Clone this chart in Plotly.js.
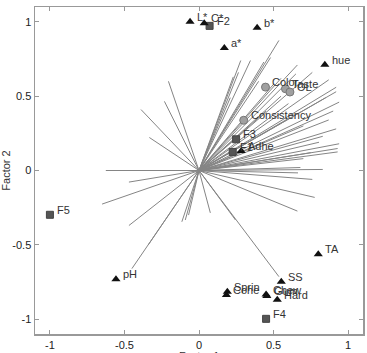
<!DOCTYPE html>
<html><head><meta charset="utf-8">
<script src="https://cdn.plot.ly/plotly-3.0.1.min.js"></script>
<style>html,body{margin:0;padding:0;background:#fff}#chart{width:367px;height:353px}</style>
</head><body><div id="chart"></div>
<script>
// consumer loading vectors (endpoints, from origin)
const loadX = [-0.205,-0.232,-0.389,-0.333,-0.625,-0.47,-0.65,-0.47,-0.45,-0.34,-0.115,-0.092,-0.07,
  0.076,0.245,0.536,0.66,0.776,0.76,0.68,0.664,0.83,0.93,0.93,0.805,
  0.536,0.48,0.435,0.66,0.76,0.65,0.87,0.92,0.92,0.85,0.94,0.90,0.87,0.92,0.83,0.94,
  0.28,0.345,0.23,0.265,0.21,0.55,0.6,0.5,0.7,0.6,0.45,0.75,0.7,0.4,0.55];
const loadY = [0.60,0.465,0.41,0.222,0.0,-0.078,-0.226,-0.37,-0.66,-0.50,-0.345,-0.333,-0.30,
  -0.285,-0.333,-0.714,-0.273,-0.181,-0.06,0.02,-0.016,0.007,0.125,0.148,0.19,
  0.875,0.76,0.73,0.71,0.66,0.65,0.61,0.56,0.53,0.49,0.46,0.40,0.34,0.28,0.23,0.18,
  0.74,0.74,0.63,0.66,0.49,0.5,0.45,0.58,0.3,0.35,0.4,0.12,0.08,0.6,0.62];

// instrumental variables (triangles)
const instNames = ["L*","C*","b*","a*","hue","Adhe","pH","TA","SS","Sprin","Cohe","Chew","Gum","Hard"];
const instX = [-0.06,0.035,0.39,0.17,0.844,0.283,-0.557,0.80,0.552,0.19,0.184,0.45,0.455,0.525];
const instY = [1.0,0.99,0.96,0.825,0.711,0.131,-0.732,-0.564,-0.748,-0.815,-0.837,-0.835,-0.845,-0.87];

// samples (squares)
const sampNames = ["F2","F3","F1","F5","F4"];
const sampX = [0.071,0.249,0.226,-1.0,0.45];
const sampY = [0.973,0.21,0.125,-0.298,-0.998];

// sensory attributes (circles)
const attrNames = ["Color","Taste","OL","Consistency"];
const attrX = [0.446,0.58,0.61,0.30];
const attrY = [0.561,0.55,0.528,0.338];

const tickVals = [-1,-0.5,0,0.5,1];
const tickText = ["-1","-0.5","0","0.5","1"];

const FONT = "Liberation Sans, Arial, sans-serif";
const lx = [], ly = [];
for (let i = 0; i < loadX.length; i++) { lx.push(0, loadX[i], null); ly.push(0, loadY[i], null); }

const traces = [
  {x:lx, y:ly, mode:"lines", line:{color:"#858585", width:1}, hoverinfo:"skip"},
  {x:attrX, y:attrY, mode:"markers",
   marker:{symbol:"circle", size:8, color:"#a0a0a0", line:{color:"#777", width:1}}},
  {x:sampX, y:sampY, mode:"markers",
   marker:{symbol:"square", size:7, color:"#555", line:{color:"#444", width:1}}},
  {x:instX, y:instY, mode:"markers",
   marker:{symbol:"triangle-up", size:8, color:"#111"}}
];

const annotations = [];
function addLabels(names, xs, ys) {
  for (let i = 0; i < names.length; i++) {
    annotations.push({x:xs[i], y:ys[i], xref:"x", yref:"y", text:names[i], showarrow:false,
      xanchor:"left", yanchor:"middle", xshift:5, yshift:5,
      font:{family:FONT, size:11, color:"#333"}});
  }
}
addLabels(attrNames, attrX, attrY);
addLabels(sampNames, sampX, sampY);
addLabels(instNames, instX, instY);
// x-axis title sits below the tick labels (cut off by the picture edge, as in the original)
annotations.push({xref:"paper", yref:"paper", x:0.5, y:0, xanchor:"center", yanchor:"top",
  yshift:-14, showarrow:false, text:"Factor 1", font:{family:FONT, size:11, color:"#333"}});

function axis(titleText) {
  return {range:[-1.1,1.1], showgrid:false, zeroline:false, showline:true, mirror:"ticks",
    linecolor:"#999", linewidth:1.5, ticks:"inside", ticklen:4, tickcolor:"#999",
    tickvals:tickVals, ticktext:tickText,
    tickfont:{family:FONT, size:11, color:"#222"},
    title:{text:titleText, font:{family:FONT, size:11, color:"#333"}, standoff:4}};
}
const layout = {
  width:367, height:353, showlegend:false, paper_bgcolor:"#fff", plot_bgcolor:"#fff",
  margin:{l:35, r:4, t:7, b:19},
  xaxis:axis(""),
  yaxis:axis("Factor 2"),
  annotations:annotations
};
Plotly.newPlot("chart", traces, layout, {displayModeBar:false, staticPlot:true});
</script></body></html>
